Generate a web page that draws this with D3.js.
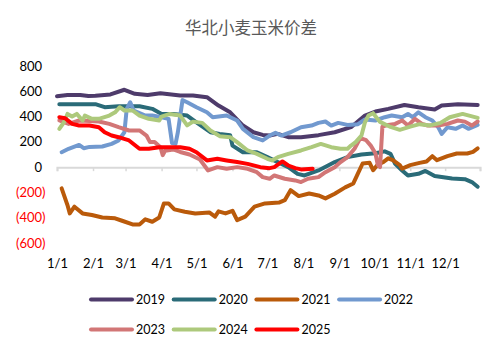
<!DOCTYPE html>
<html>
<head>
<meta charset="utf-8">
<script src="https://cdn.jsdelivr.net/npm/d3@7"></script>
<style>
  body { margin: 0; background: #fff; }
  svg { display: block; font-family: Lato, "Liberation Sans", sans-serif; }
</style>
</head>
<body>
<svg id="chart" width="502" height="354"></svg>
<script>
// Series data: [month/day, value]
const s2019 = [["1/1",560],["1/10",570],["1/21",570],["1/28",562],["2/3",565],["2/16",575],["2/28",612],["3/9",580],["3/20",570],["3/31",585],["4/17",566],["4/28",566],["5/10",553],["5/20",487],["5/30",434],["6/10",329],["6/19",276],["6/27",255],["7/3",250],["7/10",263],["7/19",237],["7/30",237],["8/14",253],["8/28",276],["9/11",316],["9/23",408],["10/2",440],["10/13",461],["10/27",492],["11/8",474],["11/22",456],["11/28",487],["12/12",498],["12/29",492]];
const s2020 = [["1/3",498],["2/3",498],["2/11",474],["2/23",482],["3/13",482],["3/24",461],["4/1",421],["4/11",421],["4/23",408],["5/1",355],["5/13",276],["5/21",263],["5/30",253],["6/1",170],["6/10",118],["6/22",118],["7/1",79],["7/10",40],["7/19",0],["7/27",-53],["8/2",-66],["8/14",-26],["8/28",40],["9/8",79],["9/20",100],["10/2",110],["10/10",125],["10/15",105],["10/19",26],["10/25",-26],["10/30",-66],["11/8",-53],["11/14",-30],["11/22",-70],["12/7",-90],["12/18",-95],["12/24",-118],["12/29",-155]];
const s2021 = [["1/5",-168],["1/10",-300],["1/12",-366],["1/16",-313],["1/23",-366],["1/31",-379],["2/9",-398],["2/20",-405],["2/26",-424],["3/7",-453],["3/13",-453],["3/18",-413],["3/24",-432],["3/30",-398],["4/3",-287],["4/7",-287],["4/12",-334],["4/21",-353],["4/30",-366],["5/12",-358],["5/17",-392],["5/20",-350],["5/26",-366],["6/1",-345],["6/5",-419],["6/12",-392],["6/20",-313],["6/29",-287],["7/11",-280],["7/16",-261],["7/21",-182],["7/28",-229],["8/6",-208],["8/14",-224],["8/20",-247],["8/28",-210],["9/6",-160],["9/13",-129],["9/17",-50],["9/21",29],["9/27",34],["9/30",-24],["10/4",20],["10/9",42],["10/13",70],["10/17",55],["10/23",16],["10/25",-11],["11/1",16],["11/9",34],["11/15",45],["11/20",87],["11/24",55],["12/3",87],["12/11",108],["12/20",108],["12/25",121],["12/29",148]];
const s2022 = [["1/5",118],["1/11",145],["1/20",176],["1/24",150],["1/29",160],["2/9",163],["2/17",184],["2/23",211],["2/28",276],["3/2",461],["3/5",513],["3/8",448],["3/18",408],["3/24",408],["4/1",395],["4/7",382],["4/10",190],["4/13",184],["4/15",276],["4/19",530],["4/23",513],["5/1",474],["5/10",434],["5/15",395],["5/27",408],["6/5",369],["6/10",303],["6/19",237],["6/27",211],["7/3",250],["7/8",271],["7/13",250],["7/21",276],["7/30",316],["8/8",329],["8/14",350],["8/20",361],["8/25",329],["8/31",350],["9/8",334],["9/17",340],["9/23",377],["10/2",369],["10/10",395],["10/16",408],["10/25",395],["10/30",421],["11/3",395],["11/8",434],["11/14",395],["11/20",369],["11/25",316],["11/28",263],["12/3",316],["12/10",303],["12/16",329],["12/21",303],["12/29",334]];
const s2023 = [["1/3",369],["1/11",342],["1/20",369],["1/29",365],["2/6",361],["2/15",342],["2/23",316],["3/4",290],["3/13",290],["3/19",250],["3/22",198],["3/26",198],["3/31",158],["4/2",95],["4/4",130],["4/11",140],["4/17",120],["4/25",100],["5/4",60],["5/11",-26],["5/19",0],["5/27",-13],["6/5",0],["6/14",-13],["6/22",-40],["6/27",-79],["7/3",-92],["7/7",-66],["7/16",-92],["7/25",-105],["7/30",-118],["8/5",-92],["8/14",-79],["8/20",-40],["8/28",0],["9/2",40],["9/8",79],["9/14",145],["9/19",230],["9/24",213],["9/28",170],["10/2",110],["10/4",20],["10/6",0],["10/8",320],["10/13",334],["10/19",342],["10/25",369],["10/30",329],["11/5",382],["11/11",342],["11/16",329],["11/25",329],["12/3",342],["12/12",369],["12/18",360],["12/24",329],["12/29",361]];
const s2024 = [["1/3",303],["1/7",355],["1/10",421],["1/14",400],["1/18",421],["1/23",369],["1/25",408],["1/31",382],["2/6",382],["2/15",408],["2/20",434],["2/24",474],["2/28",448],["3/7",448],["3/13",408],["3/21",382],["3/30",369],["4/1",400],["4/8",421],["4/17",408],["4/23",330],["4/28",360],["5/6",350],["5/13",290],["5/21",245],["5/30",237],["6/5",198],["6/14",132],["6/22",105],["7/1",66],["7/5",53],["7/10",79],["7/19",105],["7/30",132],["8/8",158],["8/16",184],["8/25",158],["9/2",145],["9/8",145],["9/11",171],["9/15",198],["9/20",250],["9/23",355],["9/26",408],["9/30",427],["10/6",358],["10/15",318],["10/23",295],["11/1",320],["11/9",340],["11/18",330],["11/27",350],["12/5",395],["12/16",421],["12/29",390]];
const s2025 = [["1/3",395],["1/8",387],["1/14",342],["1/20",329],["1/29",329],["2/6",316],["2/11",276],["2/17",250],["2/23",237],["3/4",211],["3/13",145],["3/21",145],["3/30",158],["4/8",158],["4/17",158],["4/25",145],["5/1",118],["5/10",53],["5/19",66],["5/27",53],["6/5",40],["6/14",26],["6/25",0],["7/3",-8],["7/7",0],["7/14",45],["7/19",13],["7/25",-8],["7/30",-18],["8/9",-13]];

const seriesNames = ["2019", "2020", "2021", "2022", "2023", "2024", "2025"];
const seriesValues = [s2019, s2020, s2021, s2022, s2023, s2024, s2025];
const colors = ["#4e3b6b", "#2a6b78", "#ba5a0a", "#7199cf", "#d27676", "#adc97c", "#ff0000"];
const yTicks = [800, 600, 400, 200, 0, -200, -400, -600];
const title = "华北小麦玉米价差";

const svg = d3.select("#chart");
const parse = d3.timeParse("%m/%d/%Y");
const toDate = md => parse(md + "/2001");

const x = d3.scaleTime()
  .domain([toDate("1/1"), toDate("12/31")])
  .range([57, 480]);
const y = d3.scaleLinear().domain([-600, 800]).range([243, 66]);

// Title
svg.append("text")
  .attr("x", 251).attr("y", 34)
  .attr("text-anchor", "middle")
  .attr("font-family", "'Noto Sans CJK SC', sans-serif")
  .attr("font-size", 16.5)
  .attr("fill", "#595959")
  .text(title);

// Y axis labels (no line)
const fmt = v => v < 0 ? "(" + d3.format(",")(-v) + ")" : d3.format(",")(v);
svg.append("g").selectAll("text")
  .data(yTicks)
  .join("text")
  .attr("x", d => d < 0 ? 45.5 : 42)
  .attr("y", d => y(d))
  .attr("dy", "0.35em")
  .attr("text-anchor", "end")
  .attr("font-size", 13)
  .attr("fill", d => d < 0 ? "#ff0000" : "#000")
  .text(fmt);

// X axis at zero with labels at the bottom
const monthTicks = d3.timeMonth.range(toDate("1/1"), toDate("12/31"));
const xAxis = d3.axisBottom(x)
  .tickValues(monthTicks.concat([toDate("12/31")]))
  .tickSize(4)
  .tickFormat(d => d.getMonth() === 11 && d.getDate() === 31 ? "" : d3.timeFormat("%-m/%-d")(d));
const gx = svg.append("g")
  .attr("transform", `translate(0,${y(0)})`)
  .call(xAxis);
gx.select(".domain").attr("stroke", "#d9d9d9").attr("stroke-width", 2);
gx.selectAll(".tick line").attr("stroke", "#d9d9d9").attr("stroke-width", 1.5);
gx.selectAll(".tick text")
  .attr("y", 263 - y(0))
  .attr("dy", "0.35em")
  .attr("font-size", 13)
  .attr("font-family", "Lato, sans-serif")
  .attr("fill", "#000");

// Lines
const line = d3.line()
  .x(d => x(toDate(d[0])))
  .y(d => y(d[1]));
svg.append("g").selectAll("path")
  .data(seriesValues)
  .join("path")
  .attr("d", line)
  .attr("fill", "none")
  .attr("stroke", (d, i) => colors[i])
  .attr("stroke-width", 4)
  .attr("stroke-linejoin", "round")
  .attr("stroke-linecap", "round");

// Legend
const legend = svg.append("g");
seriesNames.forEach((name, i) => {
  const col = i % 4, row = Math.floor(i / 4);
  const lx = 91 + col * 82.7, ly = 299.5 + row * 30;
  legend.append("line")
    .attr("x1", lx).attr("x2", lx + 41)
    .attr("y1", ly).attr("y2", ly)
    .attr("stroke", colors[i])
    .attr("stroke-width", 4)
    .attr("stroke-linecap", "round");
  legend.append("text")
    .attr("x", lx + 45).attr("y", ly)
    .attr("dy", "0.35em")
    .attr("font-size", 12.5)
    .attr("fill", "#000")
    .text(name);
});
</script>
</body>
</html>
